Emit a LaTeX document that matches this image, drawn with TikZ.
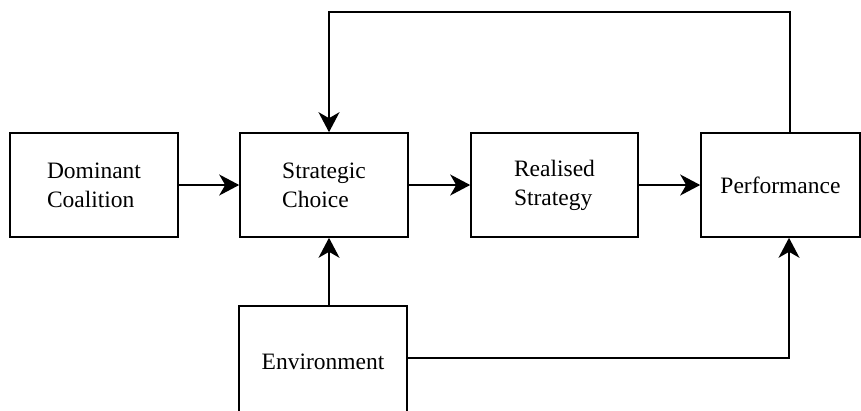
\documentclass[tikz,border=0pt]{standalone}
\usepackage{fontspec}
\setmainfont{Liberation Serif}
\usetikzlibrary{arrows.meta}
\begin{document}
\begin{tikzpicture}[x=1pt,y=-1pt,
  box/.style={draw, line width=1.6pt, inner sep=0pt, font=\fontsize{23.5}{29}\selectfont, align=left},
  conn/.style={line width=1.8pt, -{Stealth[length=20pt,width=21pt,inset=6pt]}}]
\useasboundingbox (0,0) rectangle (861,410);
\clip (0,0) rectangle (861,410);
\node[box, minimum width=168pt, minimum height=104pt] (dom) at (94,185) {Dominant\\Coalition};
\node[box, minimum width=168pt, minimum height=104pt] (sc) at (324,185) {Strategic\\Choice};
\node[box, minimum width=167pt, minimum height=104pt] (rs) at (554.5,185) {Realised\\Strategy};
\node[box, minimum width=159pt, minimum height=104pt] (perf) at (780.5,185) {Performance};
\node[box, minimum width=168pt, minimum height=112pt] (env) at (323,362) {Environment};
\coordinate (fbr) at (790,12);
\coordinate (fbl) at (329,12);
\coordinate (vx) at (329,300);
\coordinate (er) at (789,358);
\draw[conn] (dom) -- (sc);
\draw[conn] (sc) -- (rs);
\draw[conn] (rs) -- (perf);
\draw[conn] (perf.north -| fbr) -- (fbr) -- (fbl) -- (sc.north -| fbl);
\draw[conn] (env.north -| vx) -- (sc.south -| vx);
\draw[conn] (env.east |- er) -- (er) -- (perf.south -| er);
\end{tikzpicture}
\end{document}
